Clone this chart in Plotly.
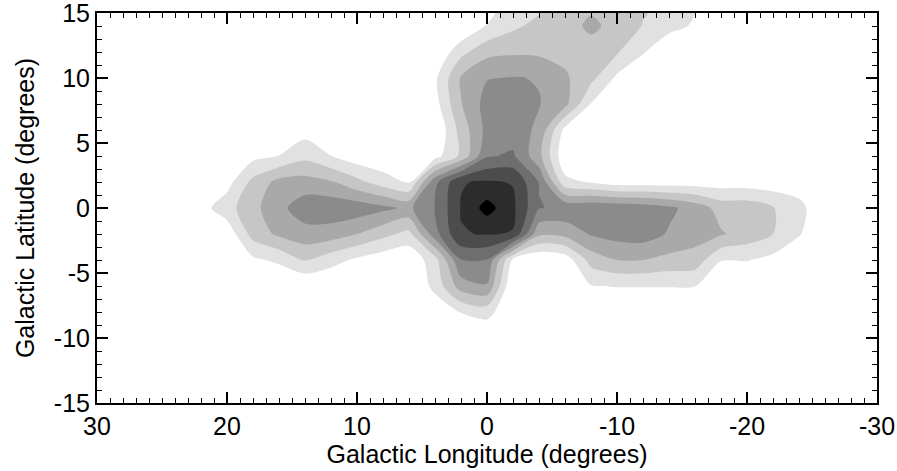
import plotly.graph_objects as go

# Galactic longitude / latitude grid (degrees)
lon = [24, 22, 20, 18, 16, 14, 12, 10, 8, 6, 4, 2, 0, -2, -4, -6, -8, -10,
       -12, -14, -16, -18, -20, -22, -24, -26, -28]
lat = [16, 14, 12, 10, 8, 6, 4, 2, 0, -2, -4, -6, -8, -10]

# intensity level (one row per latitude, top to bottom)
row_b16 = [0, 0, 0, 0, 0, 0, 0, 0, 0, 0, 0, 0, 0.5, 1.3, 1.6, 2.1, 2.7, 2.5, 2.2, 1.9, 1.2, 0.6, 0, 0, 0, 0, 0]
row_b14 = [0, 0, 0, 0, 0, 0, 0, 0, 0, 0, 0, 0, 1.05, 1.8, 2.3, 2.6, 3.2, 2.7, 1.95, 1.4, 0.85, 0, 0, 0, 0, 0, 0]
row_b12 = [0, 0, 0, 0, 0, 0, 0, 0, 0, 0, 0, 1.7, 2.7, 2.85, 2.8, 2.7, 2.6, 2.1, 1.1, 0, 0, 0, 0, 0, 0, 0, 0]
row_b10 = [0, 0, 0, 0, 0, 0, 0, 0, 0, 0, 0.8, 3.1, 3.95, 4.05, 3.95, 3.15, 2.3, 0.8, 0, 0, 0, 0, 0, 0, 0, 0, 0]
row_b8 = [0, 0, 0, 0, 0, 0, 0, 0, 0, 0, 0.6, 2.95, 4.4, 4.5, 4.05, 3.3, 0.95, 0, 0, 0, 0, 0, 0, 0, 0, 0, 0]
row_b6 = [0, 0, 0, 0, 0.1, 0.6, 0.1, 0, 0, 0, 0, 2.4, 4.3, 4.5, 3.8, 0.7, 0, 0, 0, 0, 0, 0, 0, 0, 0, 0, 0]
row_b4 = [0, 0, 0, 0.7, 1.02, 1.7, 1.02, 0.4, 0.2, 0.3, 0.6, 2.2, 4.9, 5.15, 3.3, 0.2, 0, 0, 0, 0, 0, 0, 0, 0, 0, 0, 0]
row_b2 = [0, 0, 0.6, 2.3, 3.3, 3.4, 3.1, 2.3, 1.5, 0.95, 4.7, 6.95, 7.1, 6.95, 4.95, 1.3, 0.9, 0.5, 0.5, 0.5, 0.5, 0.5, 0.5, 0.4, 0.3, 0, 0]
row_b0 = [0, 0.6, 1.6, 2.7, 3.7, 4.6, 4.7, 4.6, 4.25, 3.8, 5.02, 7.05, 8.4, 7.2, 5.05, 4.8, 4.85, 4.75, 4.6, 4.2, 3.6, 2.6, 2.6, 2.05, 1.4, 0, 0]
row_bm2 = [0, 0, 0.3, 2.4, 3.2, 3.6, 3.5, 3.0, 2.3, 1.7, 4.6, 6.95, 7.05, 6.95, 3.2, 3.3, 4.1, 4.4, 4.5, 3.9, 3.4, 3.1, 2.6, 2.0, 1.1, 0, 0]
row_bm4 = [0, 0, 0, 0.8, 1.2, 2.1, 1.4, 0.8, 0.4, 0.2, 1.6, 4.95, 4.95, 0.8, 0, 0.4, 2.4, 3.0, 3.0, 2.7, 2.6, 1.05, 1.05, 0.7, 0, 0, 0]
row_bm6 = [0, 0, 0, 0, 0, 0, 0, 0, 0, 0, 1.3, 3.5, 3.9, 0, 0, 0, 0.95, 1.05, 1.05, 1.05, 1.02, 0, 0, 0, 0, 0, 0]
row_bm8 = [0, 0, 0, 0, 0, 0, 0, 0, 0, 0, 0.3, 1.05, 1.4, 0, 0, 0, 0, 0, 0, 0, 0, 0, 0, 0, 0, 0, 0]
row_bm10 = [0] * 27

intensity = [row_b16, row_b14, row_b12, row_b10, row_b8, row_b6, row_b4,
             row_b2, row_b0, row_bm2, row_bm4, row_bm6, row_bm8, row_bm10]

# grey shades, lowest band (white) to highest (black)
greys = ["#ffffff", "#e1e1e1", "#c6c6c6", "#a9a9a9", "#8b8b8b",
         "#6e6e6e", "#4c4c4c", "#2c2c2c", "#000000"]

x_ticks = [30, 20, 10, 0, -10, -20, -30]
y_ticks = [-15, -10, -5, 0, 5, 10, 15]

n = len(greys) - 1
colorscale = [[i / n, c] for i, c in enumerate(greys)]

fig = go.Figure(go.Contour(
    x=lon, y=lat, z=intensity,
    autocontour=False,
    contours=dict(start=1, end=8, size=1, coloring="fill", showlines=False),
    colorscale=colorscale,
    showscale=False,
    line=dict(width=0, smoothing=0.8),
    hoverinfo="skip",
))

FONT = "Arial, Liberation Sans, sans-serif"
axis_common = dict(
    showgrid=False, zeroline=False, showline=True, linecolor="black", linewidth=2,
    mirror="ticks", ticks="inside", ticklen=11, tickwidth=1.5, tickcolor="black",
    tickfont=dict(family=FONT, size=25, color="black"),
    ticklabeloverflow="allow", automargin=False,
)

fig.update_xaxes(
    range=[30, -30], tickvals=x_ticks, ticktext=[str(v) for v in x_ticks],
    minor=dict(dtick=1, ticks="inside", ticklen=5, tickwidth=1, tickcolor="black"),
    title=dict(text="Galactic Longitude (degrees)", font=dict(family=FONT, size=25, color="black"), standoff=2),
    **axis_common,
)
fig.update_yaxes(
    range=[-15, 15], tickvals=y_ticks, ticktext=[str(v) for v in y_ticks],
    minor=dict(dtick=1, ticks="inside", ticklen=5, tickwidth=1, tickcolor="black"),
    title=dict(text="Galactic Latitude (degrees)", font=dict(family=FONT, size=25, color="black"), standoff=12),
    **axis_common,
)

fig.update_layout(
    width=897, height=471,
    margin=dict(l=97, r=20, t=13, b=68),
    plot_bgcolor="white", paper_bgcolor="white",
    showlegend=False,
)

fig.write_html("out.html", config={"displayModeBar": False},
               post_script="document.body.style.margin='0';document.body.style.overflow='hidden';")
